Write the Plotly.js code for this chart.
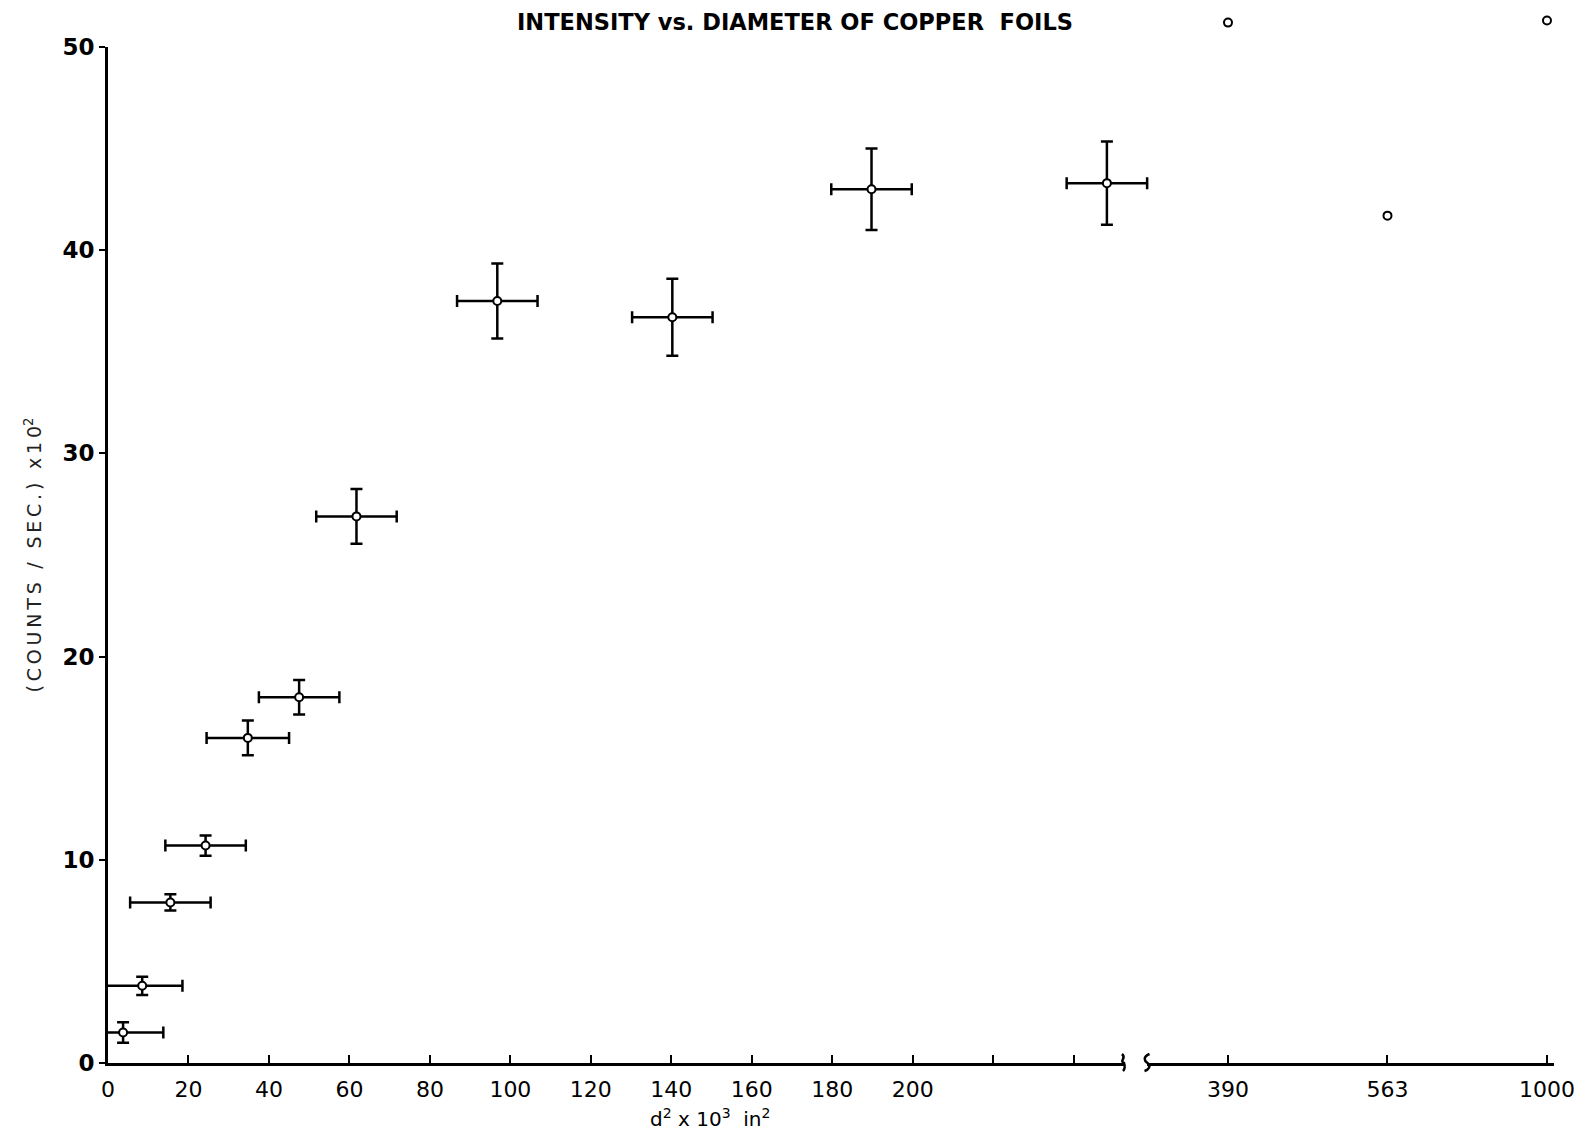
<!DOCTYPE html>
<html>
<head>
<meta charset="utf-8">
<script src="https://cdn.plot.ly/plotly-3.0.1.min.js"></script>
<style>html,body{margin:0;padding:0;background:#fff;}#chart{width:1577px;height:1136px;}</style>
</head>
<body>
<div id="chart"></div>
<script>
// ---- data ----
const diameterSq = [3.75, 8.5, 15.5, 24.25, 34.75, 47.5, 61.75, 96.75, 140.25, 189.75, 248.25];
const intensity  = [1.5, 3.8, 7.9, 10.7, 16.0, 18.0, 26.9, 37.5, 36.7, 43.0, 43.3];
const diameterErr = [10, 10, 10, 10, 10.25, 10, 10, 10, 10, 10, 10];
const intensityErr = [0.5, 0.45, 0.4, 0.5, 0.85, 0.85, 1.35, 1.85, 1.9, 2.0, 2.05];

const farLabels = ['390', '563', '1000'];
const farIntensity = [51.2, 41.7, 51.3];

const xTickVals = [0, 20, 40, 60, 80, 100, 120, 140, 160, 180, 200, 220, 240];
const xTickText = ['0', '20', '40', '60', '80', '100', '120', '140', '160', '180', '200', '', ''];
const yTickVals = [0, 10, 20, 30, 40, 50];

// ---- geometry ----
const L = 108, R = 23, T = 10, B = 73;
const W = 1577 - L - R;           // plot width px
const H = 1136 - T - B;           // plot height px
const axisTopPx = 47;             // pixel row of y = 50
const yDomTop = (1136 - B - axisTopPx) / H;
const xMax = 252.5;
const bx1 = (1124 - L) / W, bx2 = (1146.5 - L) / W;
const yMax = 50;

// ---- traces ----
const markerStyle = {symbol: 'circle', size: 8, color: '#ffffff', line: {color: '#000', width: 2}};
function errTrace(lo, hi, xa, ya) {
  return {
    type: 'scatter', mode: 'markers', xaxis: xa, yaxis: ya,
    x: diameterSq.slice(lo, hi), y: intensity.slice(lo, hi),
    cliponaxis: true, marker: markerStyle,
    error_x: {type: 'data', array: diameterErr.slice(lo, hi), color: '#000', thickness: 2.5, width: 6},
    error_y: {type: 'data', array: intensityErr.slice(lo, hi), color: '#000', thickness: 2.5, width: 6},
    showlegend: false
  };
}
const traces = [
  errTrace(0, 2, 'x', 'y'),
  errTrace(2, diameterSq.length, 'x3', 'y2'),
  {
    type: 'scatter', mode: 'markers', xaxis: 'x2', yaxis: 'y2',
    x: farLabels, y: farIntensity, cliponaxis: true,
    marker: markerStyle, showlegend: false
  }
];

function px(d) { return d / W; }
function py(d) { return d / H; }
const breakLeft = `M ${bx1 - px(2)} ${py(9)} C ${bx1 + px(3)} ${py(5)}, ${bx1 - px(5)} ${py(2)}, ${bx1} ${py(0)} C ${bx1 + px(1)} ${py(-3)}, ${bx1 + px(1)} ${py(-6)}, ${bx1 - px(1)} ${py(-8)}`;
const breakRight = `M ${bx2 + px(3)} ${py(9)} C ${bx2 - px(4)} ${py(6)}, ${bx2 - px(2)} ${py(2)}, ${bx2 + px(1)} ${py(0)} C ${bx2 + px(5)} ${py(-3)}, ${bx2 + px(2)} ${py(-7)}, ${bx2 - px(2)} ${py(-8)}`;

function spaced(s) { return Array.from(s).join('\u2009'); }

const tickFontX = {family: 'DejaVu Sans, sans-serif', size: 22, color: '#000'};
const layout = {
  width: 1577, height: 1136,
  margin: {l: L, r: R, t: T, b: B},
  paper_bgcolor: '#fff', plot_bgcolor: 'rgba(0,0,0,0)',
  font: {family: 'DejaVu Sans, sans-serif', color: '#000'},
  title: {
    text: '<b>INTENSITY vs. DIAMETER OF COPPER  FOILS</b>',
    font: {family: 'DejaVu Sans, sans-serif', size: 22.5, color: '#000'},
    xref: 'paper', x: (795 - L) / W, xanchor: 'center',
    yref: 'container', y: 1 - 22 / 1136, yanchor: 'middle'
  },
  xaxis: {
    domain: [0, bx1], range: [0, xMax], anchor: 'y',
    tickmode: 'array', tickvals: xTickVals, ticktext: xTickText,
    ticks: 'inside', ticklen: 8, tickwidth: 2, tickcolor: '#000',
    showline: true, linecolor: '#000', linewidth: 3,
    showgrid: false, zeroline: false, tickfont: tickFontX, ticklabelstandoff: 5
  },
  xaxis2: {
    domain: [bx2, 1], anchor: 'y', type: 'category',
    range: [-0.511, 2.044],
    ticks: 'inside', ticklen: 8, tickwidth: 2, tickcolor: '#000',
    showline: true, linecolor: '#000', linewidth: 3,
    showgrid: false, zeroline: false, tickfont: tickFontX, ticklabelstandoff: 5
  },
  xaxis3: {
    domain: [0, 1], range: [0, xMax / bx1], anchor: 'y2',
    visible: false, showgrid: false, zeroline: false, fixedrange: true
  },
  yaxis: {
    domain: [0, yDomTop], range: [0, yMax], anchor: 'x',
    tickmode: 'array', tickvals: yTickVals,
    ticks: 'outside', ticklen: 6, tickwidth: 2, tickcolor: '#000',
    showline: true, linecolor: '#000', linewidth: 3,
    showgrid: false, zeroline: false,
    tickfont: {family: 'DejaVu Sans, sans-serif', size: 23, color: '#000', weight: 'bold'},
    title: {
      text: spaced('(COUNTS / SEC.) x10') + '<sup>2</sup>',
      font: {family: 'DejaVu Sans, sans-serif', size: 19, color: '#222'},
      standoff: 16
    }
  },
  yaxis2: {
    domain: [0, 1], range: [0, yMax / yDomTop], anchor: 'x3',
    visible: false, showgrid: false, zeroline: false, fixedrange: true
  },
  annotations: [{
    text: 'd<sup>2</sup> x 10<sup>3</sup>  in<sup>2</sup>',
    xref: 'paper', yref: 'paper',
    x: (710 - L) / W, y: -(1118 - 1063) / H,
    xanchor: 'center', yanchor: 'middle', showarrow: false,
    font: {family: 'DejaVu Sans, sans-serif', size: 20, color: '#000'}
  }],
  shapes: [
    {type: 'path', xref: 'paper', yref: 'paper', path: breakLeft, line: {color: '#000', width: 2.5}},
    {type: 'path', xref: 'paper', yref: 'paper', path: breakRight, line: {color: '#000', width: 2.5}}
  ]
};

Plotly.newPlot('chart', traces, layout, {displayModeBar: false, staticPlot: true});
</script>
</body>
</html>
